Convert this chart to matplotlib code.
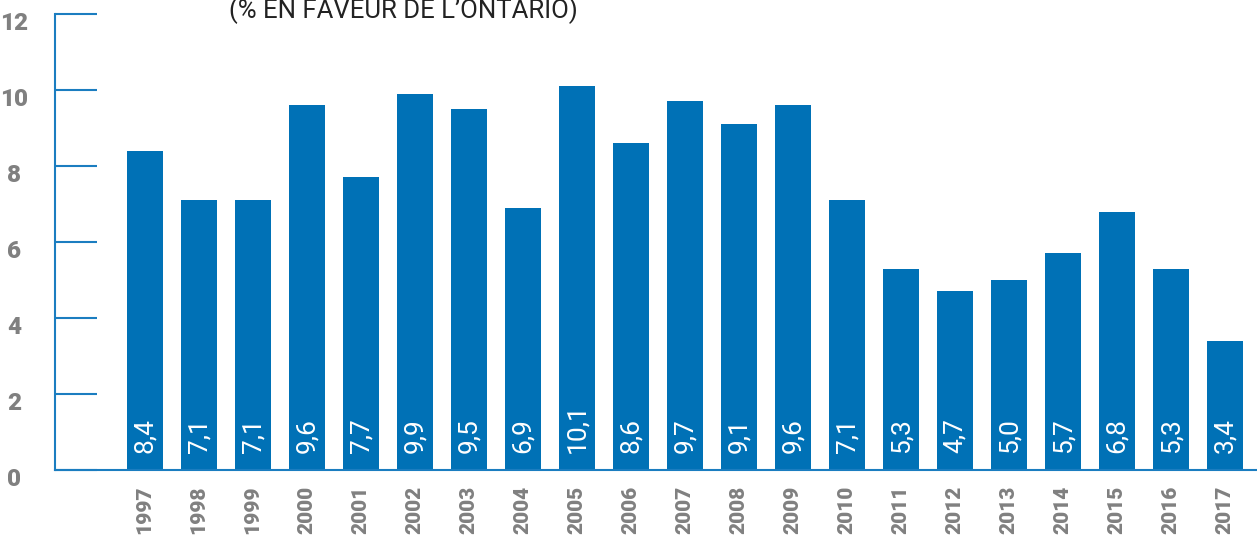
import matplotlib
matplotlib.use("Agg")
import matplotlib.pyplot as plt

years = [str(y) for y in range(1997, 2018)]
values = [8.4, 7.1, 7.1, 9.6, 7.7, 9.9, 9.5, 6.9, 10.1, 8.6, 9.7,
          9.1, 9.6, 7.1, 5.3, 4.7, 5.0, 5.7, 6.8, 5.3, 3.4]
y_ticks = [0, 2, 4, 6, 8, 10, 12]
title = "(% EN FAVEUR DE L\u2019ONTARIO)"

BLUE = "#0071b6"
AXIS_BLUE = "#1b7dc0"
GREY = "#808080"

fig = plt.figure(figsize=(12.57, 5.35), dpi=100)
ax = fig.add_axes([55 / 1257, 65 / 535, 1 - 55 / 1257, 456 / 535])

x = list(range(len(years)))
ax.bar(x, values, width=0.67, color=BLUE, zorder=2)

ax.set_xlim(-1.667, 20.59)
ax.set_ylim(0, 12)

for s in ("top", "right"):
    ax.spines[s].set_visible(False)
for s in ("left", "bottom"):
    ax.spines[s].set_color(AXIS_BLUE)
    ax.spines[s].set_linewidth(1.5)

ax.set_yticks(y_ticks)
ax.set_yticklabels([])
ax.tick_params(axis="y", direction="in", length=30, width=1.5, color=AXIS_BLUE)
ax.set_xticks([])

# y labels sit a bit below their tick marks in the original
for t in y_ticks:
    ax.text(-0.034, t - 0.24, str(t), transform=ax.get_yaxis_transform(),
            ha="center", va="center", fontsize=17.5, fontweight="heavy",
            color=GREY, family="Roboto", clip_on=False)

for xi, v, yr in zip(x, values, years):
    ax.text(xi, 0.45, f"{v:.1f}".replace(".", ","), rotation=90,
            ha="center", va="bottom", color="white", fontsize=19,
            family="Roboto", fontweight="normal", zorder=3)
    ax.text(xi, -0.42, yr, rotation=90, ha="center", va="top",
            color=GREY, fontsize=15, fontweight="heavy", family="Roboto",
            clip_on=False)

# subtitle runs off the top edge, as in the source image
fig.text(403 / 1257, (535 - 18) / 535, title, ha="center", va="baseline",
         fontsize=18.5, color="#222222", family="Roboto")

fig.savefig("out.png", dpi=100)
